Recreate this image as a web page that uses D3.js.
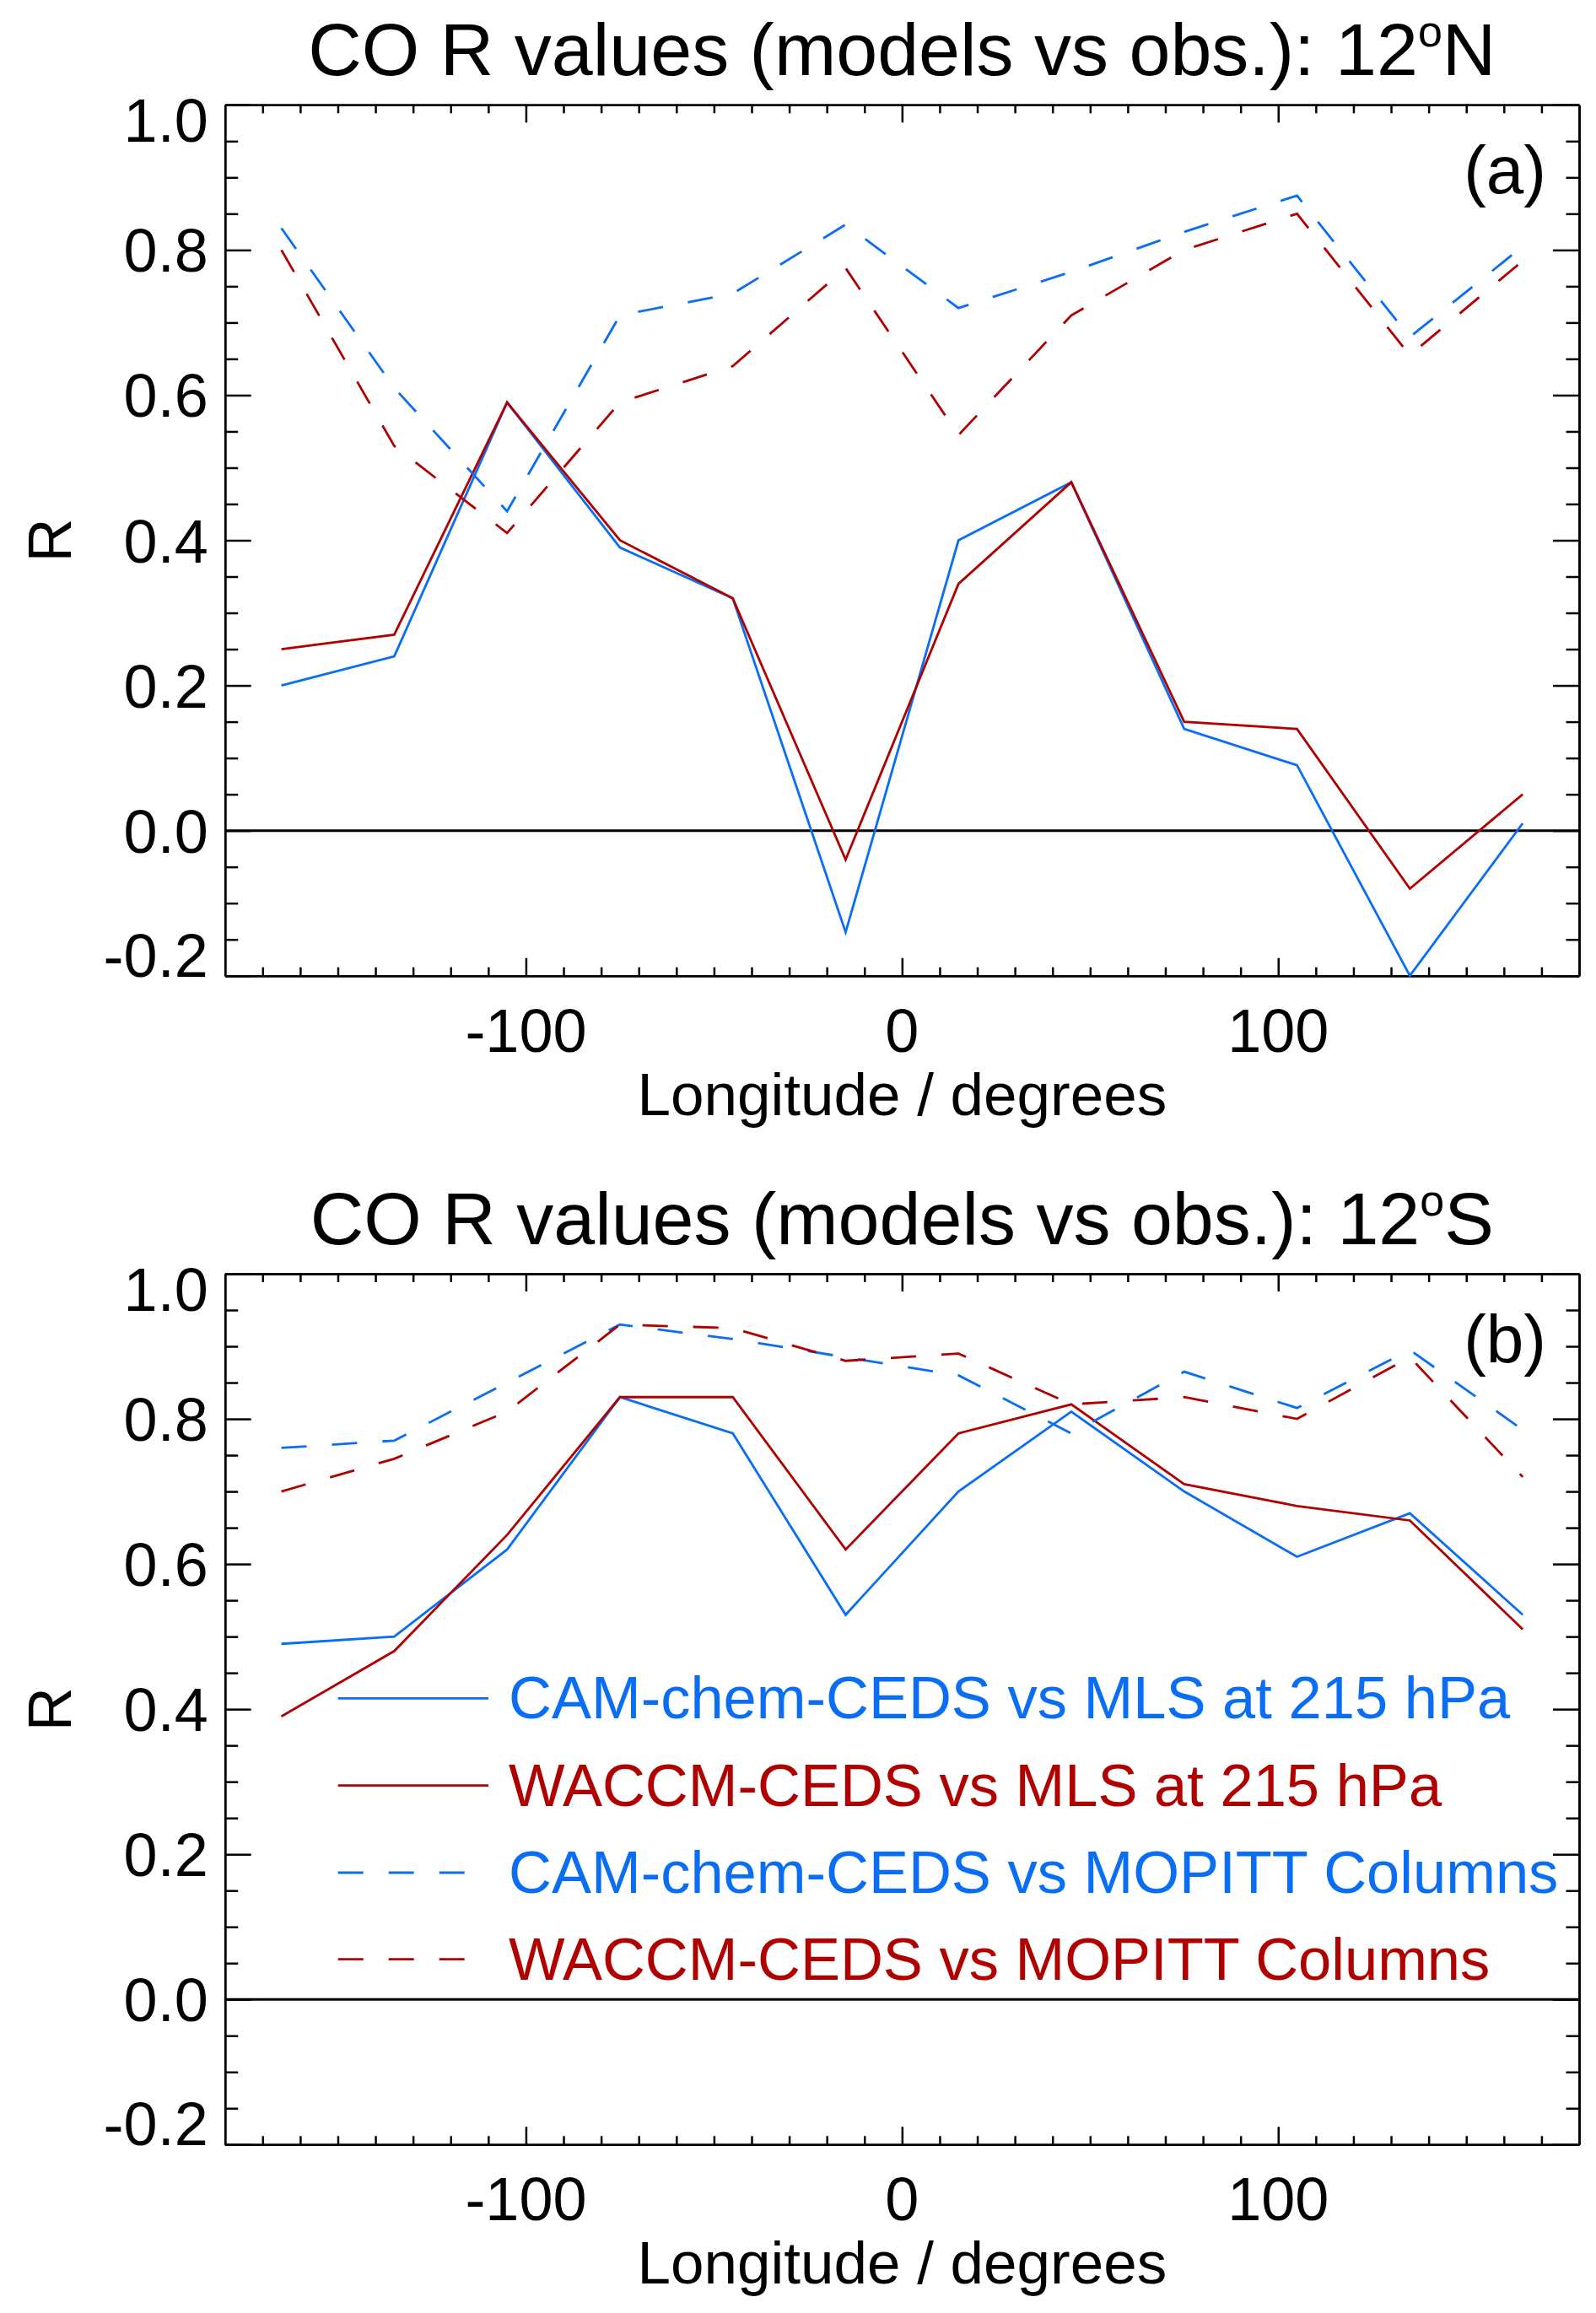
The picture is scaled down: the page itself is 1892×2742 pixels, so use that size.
<!DOCTYPE html>
<html>
<head>
<meta charset="utf-8">
<script src="https://cdn.jsdelivr.net/npm/d3@7"></script>
<style>
  html, body { margin: 0; padding: 0; background: #fff; }
  svg { display: block; }
  text { font-family: "Liberation Sans", Arial, Helvetica, sans-serif; }
</style>
</head>
<body>
<svg id="chart" width="1892" height="2742"></svg>
<script>
// ---------------- data ----------------
const longitudes = [-165, -135, -105, -75, -45, -15, 15, 45, 75, 105, 135, 165];

// Panel (a) 12N
const a_camchem_mls   = [0.20, 0.24, 0.59, 0.39, 0.32, -0.14, 0.40, 0.48, 0.14, 0.09, -0.20, 0.01];
const a_waccm_mls     = [0.25, 0.27, 0.59, 0.40, 0.32, -0.04, 0.34, 0.48, 0.15, 0.14, -0.08, 0.05];
const a_camchem_mop   = [0.83, 0.61, 0.44, 0.71, 0.74, 0.835, 0.72, 0.77, 0.825, 0.875, 0.68, 0.805];
const a_waccm_mop     = [0.80, 0.53, 0.41, 0.59, 0.64, 0.775, 0.545, 0.71, 0.80, 0.85, 0.655, 0.785];

// Panel (b) 12S
const b_camchem_mls   = [0.49, 0.50, 0.62, 0.83, 0.78, 0.53, 0.70, 0.81, 0.70, 0.61, 0.67, 0.53];
const b_waccm_mls     = [0.39, 0.48, 0.64, 0.83, 0.83, 0.62, 0.78, 0.82, 0.71, 0.68, 0.66, 0.51];
const b_camchem_mop   = [0.76, 0.77, 0.85, 0.93, 0.91, 0.885, 0.86, 0.78, 0.865, 0.815, 0.895, 0.785];
const b_waccm_mop     = [0.70, 0.745, 0.81, 0.93, 0.925, 0.88, 0.89, 0.82, 0.83, 0.80, 0.885, 0.72];

const legendLabels = [
  "CAM-chem-CEDS vs MLS at 215 hPa",
  "WACCM-CEDS vs MLS at 215 hPa",
  "CAM-chem-CEDS vs MOPITT Columns",
  "WACCM-CEDS vs MOPITT Columns"
];
const xMajorTicks = [-100, 0, 100];
const xTickLabels = ["-100", "0", "100"];
const yMajorTicks = [-0.2, 0.0, 0.2, 0.4, 0.6, 0.8, 1.0];
const yTickLabels = ["-0.2", "0.0", "0.2", "0.4", "0.6", "0.8", "1.0"];
const titles = [["CO R values (models vs obs.): 12", "N"], ["CO R values (models vs obs.): 12", "S"]];
const panelLabels = ["(a)", "(b)"];

// ---------------- styles ----------------
const BLUE = "#0a6ef5";
const RED = "#b00000";
const styles = [
  { color: BLUE, dash: null },
  { color: RED, dash: null },
  { color: BLUE, dash: "30,30" },
  { color: RED, dash: "30,30" }
];

const panels = [
  { top: 124.3, bottom: 1156.7, series: [a_camchem_mls, a_waccm_mls, a_camchem_mop, a_waccm_mop], legend: false },
  { top: 1510, bottom: 2542.3, series: [b_camchem_mls, b_waccm_mls, b_camchem_mop, b_waccm_mop], legend: true }
];

const LEFT = 266.7, RIGHT = 1872;
const svg = d3.select("#chart");
const FONT = 72;

const x = d3.scaleLinear().domain([-180, 180]).range([LEFT, RIGHT]);

panels.forEach((p, pi) => {
  const y = d3.scaleLinear().domain([-0.2, 1.0]).range([p.bottom, p.top]);
  const g = svg.append("g");

  const xMinor = d3.range(-170, 180, 10).filter(v => v % 100 !== 0);
  const yMinor = d3.range(-4, 21).map(i => +(i * 0.05).toFixed(2)).filter(v => Math.abs(Math.round(v * 5) - v * 5) > 1e-6);

  const styleAxis = sel => {
    sel.selectAll("path.domain").attr("stroke", "#000").attr("stroke-width", 2.5);
    sel.selectAll(".tick line").attr("stroke", "#000").attr("stroke-width", 2.5);
    sel.selectAll(".tick text").remove();
  };

  // minor ticks
  g.append("g").attr("transform", `translate(0,${p.bottom})`)
    .call(d3.axisBottom(x).tickValues(xMinor).tickSizeInner(-10).tickSizeOuter(0).tickFormat(""))
    .call(styleAxis);
  g.append("g").attr("transform", `translate(0,${p.top})`)
    .call(d3.axisTop(x).tickValues(xMinor).tickSizeInner(-10).tickSizeOuter(0).tickFormat(""))
    .call(styleAxis);
  g.append("g").attr("transform", `translate(${LEFT},0)`)
    .call(d3.axisLeft(y).tickValues(yMinor).tickSizeInner(-15.5).tickSizeOuter(0).tickFormat(""))
    .call(styleAxis);
  g.append("g").attr("transform", `translate(${RIGHT},0)`)
    .call(d3.axisRight(y).tickValues(yMinor).tickSizeInner(-15.5).tickSizeOuter(0).tickFormat(""))
    .call(styleAxis);
  // major ticks
  g.append("g").attr("transform", `translate(0,${p.bottom})`)
    .call(d3.axisBottom(x).tickValues(xMajorTicks).tickSizeInner(-21).tickSizeOuter(0).tickFormat(""))
    .call(styleAxis);
  g.append("g").attr("transform", `translate(0,${p.top})`)
    .call(d3.axisTop(x).tickValues(xMajorTicks).tickSizeInner(-21).tickSizeOuter(0).tickFormat(""))
    .call(styleAxis);
  g.append("g").attr("transform", `translate(${LEFT},0)`)
    .call(d3.axisLeft(y).tickValues(yMajorTicks).tickSizeInner(-31).tickSizeOuter(0).tickFormat(""))
    .call(styleAxis);
  g.append("g").attr("transform", `translate(${RIGHT},0)`)
    .call(d3.axisRight(y).tickValues(yMajorTicks).tickSizeInner(-31).tickSizeOuter(0).tickFormat(""))
    .call(styleAxis);

  // x tick labels
  g.selectAll("text.xlab").data(xMajorTicks).enter().append("text")
    .attr("x", d => x(d)).attr("y", p.bottom + 90)
    .attr("text-anchor", "middle").attr("font-size", FONT)
    .text((d, i) => xTickLabels[i]);

  // y tick labels
  g.selectAll("text.ylab").data(yMajorTicks).enter().append("text")
    .attr("x", LEFT - 20)
    .attr("y", d => {
      if (d === 1.0) return y(d) + 44;
      if (d === -0.2) return y(d) + 1;
      return y(d) + 26;
    })
    .attr("text-anchor", "end").attr("font-size", FONT)
    .text((d, i) => yTickLabels[i]);

  // axis titles
  g.append("text")
    .attr("transform", `translate(84,${(p.top + p.bottom) / 2}) rotate(-90)`)
    .attr("text-anchor", "middle").attr("font-size", FONT).text("R");
  g.append("text")
    .attr("x", (LEFT + RIGHT) / 2).attr("y", p.bottom + 165)
    .attr("text-anchor", "middle").attr("font-size", 71).text("Longitude / degrees");

  // title
  const t = g.append("text")
    .attr("x", (LEFT + RIGHT) / 2).attr("y", p.top - 35)
    .attr("text-anchor", "middle").attr("font-size", 88);
  t.append("tspan").text(titles[pi][0]);
  t.append("tspan").attr("font-size", 52).attr("dy", -34).text("o");
  t.append("tspan").attr("dy", 34).text(titles[pi][1]);

  // panel label
  g.append("text")
    .attr("x", 1833).attr("y", p.top + 105)
    .attr("text-anchor", "end").attr("font-size", 80).text(panelLabels[pi]);

  // zero line
  g.append("line")
    .attr("x1", LEFT).attr("x2", RIGHT)
    .attr("y1", y(0)).attr("y2", y(0))
    .attr("stroke", "#000").attr("stroke-width", 3);

  // series
  const line = d3.line().x((d, i) => x(longitudes[i])).y(d => y(d));
  p.series.forEach((s, si) => {
    g.append("path").datum(s)
      .attr("d", line)
      .attr("fill", "none")
      .attr("stroke", styles[si].color)
      .attr("stroke-width", 2.8)
      .attr("stroke-dasharray", styles[si].dash)
      .attr("stroke-linejoin", "miter");
  });

  // legend
  if (p.legend) {
    const rows = [2013.3, 2116.7, 2220, 2322.7];
    legendLabels.forEach((lab, li) => {
      g.append("line")
        .attr("x1", 400.7).attr("x2", 579)
        .attr("y1", rows[li]).attr("y2", rows[li])
        .attr("stroke", styles[li].color).attr("stroke-width", 2.8)
        .attr("stroke-dasharray", styles[li].dash);
      g.append("text")
        .attr("x", 603).attr("y", rows[li] + 24)
        .attr("font-size", 70.5).attr("fill", styles[li].color)
        .text(lab);
    });
  }
});
</script>
</body>
</html>
